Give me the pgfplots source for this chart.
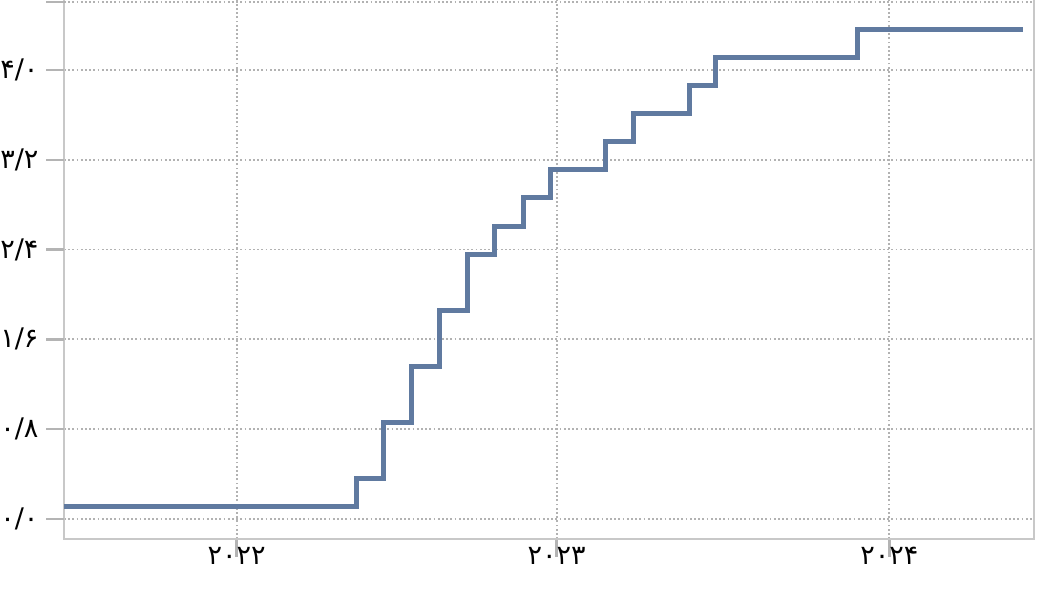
\documentclass[border=0pt]{standalone}
\usepackage{fontspec}
\usepackage{pgfplots}
\pgfplotsset{compat=1.18}
\newfontfamily\fafont{DejaVu Sans}
\definecolor{lineblue}{RGB}{96,122,160}
\definecolor{spinec}{RGB}{200,200,200}
\definecolor{tickc}{RGB}{180,180,180}
\definecolor{gridc}{RGB}{178,178,178}
\begin{document}
\begin{tikzpicture}
\begin{axis}[
  at={(0pt,0pt)}, anchor=south west,
  scale only axis, width=970pt, height=547.6pt,
  xmin=2021.519, xmax=2024.435, ymin=-0.178, ymax=4.70,
  axis line style={spinec, line width=2pt},
  xtick={2022.038,2023,2024},
  xticklabels={۲۰۲۲,۲۰۲۳,۲۰۲۴},
  ytick={0,0.8,1.6,2.4,3.2,4.0},
  yticklabels={۰/۰,۰/۸,۱/۶,۲/۴,۳/۲,۴/۰},
  extra y ticks={4.606},
  extra y tick labels={},
  extra y tick style={grid=major},
  tick align=outside,
  major tick length=18pt,
  ytick pos=left,
  xtick pos=bottom,
  every tick/.style={draw=tickc, line width=2.5pt},
  grid=major,
  major grid style={gridc, line width=1.8pt, dash pattern=on 1.8pt off 2.4pt},
  xticklabel style={font=\fafont\fontsize{27}{27}\selectfont, yshift=13pt},
  yticklabel style={font=\fafont\fontsize{27}{27}\selectfont, xshift=-4pt},
  clip=false,
]
\addplot[const plot, lineblue, line width=5pt] coordinates {
  (2021.519,0.11) (2022.397,0.36) (2022.479,0.86) (2022.564,1.36)
  (2022.647,1.86) (2022.732,2.36) (2022.8145,2.61) (2022.900,2.86)
  (2022.982,3.11) (2023.146,3.36) (2023.230,3.61) (2023.399,3.86)
  (2023.479,4.11) (2023.904,4.36) (2024.402,4.36)
};
\pgfplotsinvokeforeach{0,0.8,1.6,2.4,3.2,4.0,4.606}{
  \draw[tickc, line width=2.5pt] (axis cs:2021.519,#1) -- ++(-18pt,0pt);
}
\end{axis}
\pgfresetboundingbox
\path (-64pt,-54pt) rectangle (975pt,539pt);
\end{tikzpicture}
\end{document}
